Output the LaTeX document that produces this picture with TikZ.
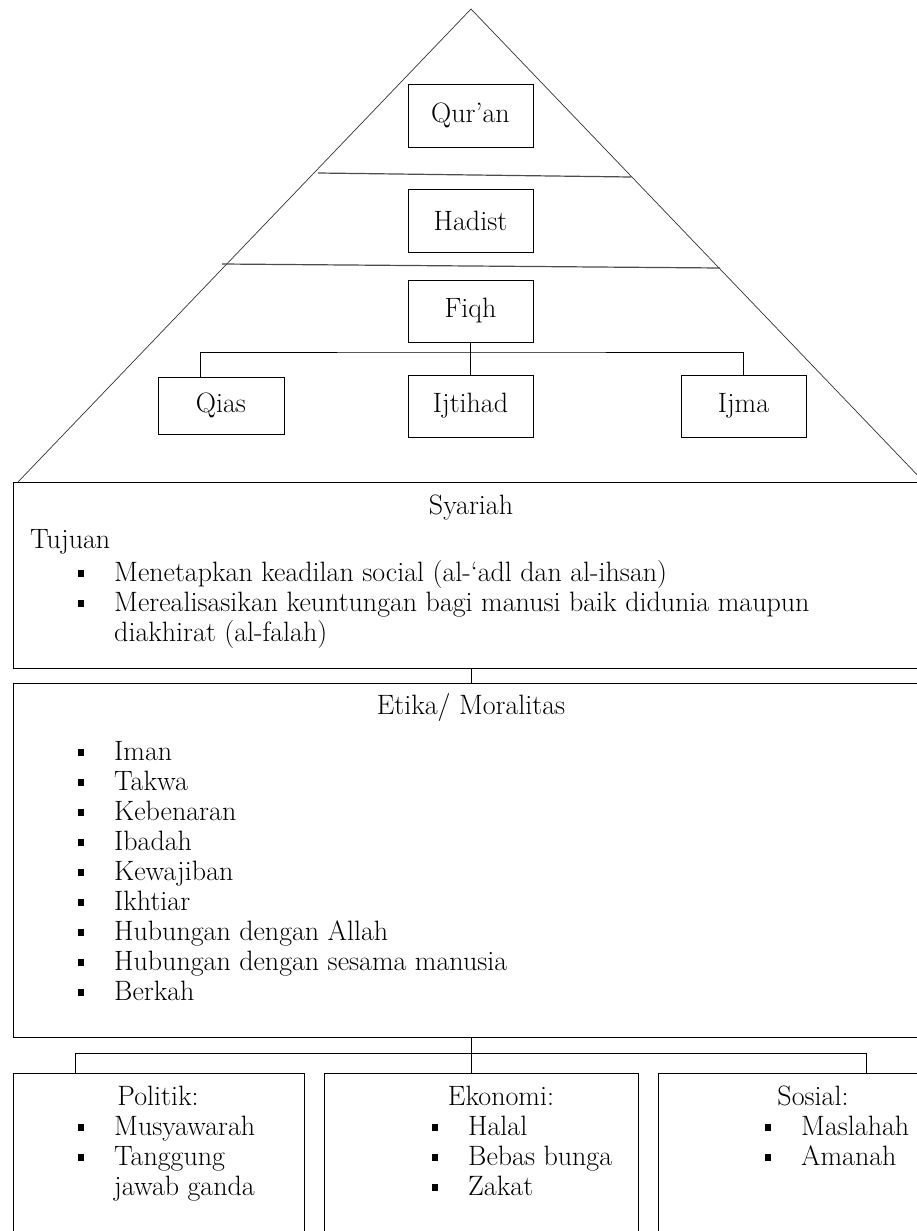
\documentclass[tikz,border=0pt]{standalone}
\usepackage{tikz}
\usetikzlibrary{positioning}

\newcommand{\itm}[1]{\makebox[36pt][l]{\rule[4pt]{6pt}{7pt}}#1}

\begin{document}
\begin{tikzpicture}[x=1pt,y=-1pt,
    box/.style={
        rectangle,draw,line width=1pt,
        minimum width=125pt,
        minimum height=63pt,
        inner sep=0pt,
        font=\fontsize{28}{30}\selectfont
    },
    panel/.style={rectangle,draw,line width=1pt,inner sep=0pt},
    txt/.style={inner sep=0pt,font=\fontsize{28}{30}\selectfont},
    item/.style={txt,anchor=base west}
]
\useasboundingbox (0,0) rectangle (916,1231);

% pyramid
\coordinate (apex) at (471,9);
\draw[black!80,line width=0.7pt] (18,482) -- (apex) -- (924,482);
\draw[black!70,line width=1.2pt] (318,173) -- (631,177);
\draw[black!70,line width=1.2pt] (222,264) -- (720,268);

\node[box] (quran) at (470.5,115.5) {Qur’an};
\node[box, below=41pt of quran] (hadist) {Hadist};
\node[box, minimum height=62pt, below=27pt of hadist] (fiqh) {Fiqh};
\node[box, minimum height=62pt, below=32pt of fiqh] (ijtihad) {Ijtihad};
\node[box, minimum width=126pt, minimum height=57pt] (qias) at (221,405.5) {Qias};
\node[box, minimum height=62pt, right=147pt of ijtihad] (ijma) {Ijma};

\coordinate (fbar) at (471,352);
\draw[line width=0.8pt] (fiqh) -- (ijtihad);
\draw[line width=0.8pt] ([xshift=-21pt]qias.north) |- (fbar) -| (ijma.north);

% syariah
\node[panel, minimum width=916pt, minimum height=186pt] (syariah) at (471,575) {};
\node[txt] (syt) at (471,508) {Syariah};
\node[item] (tuj) at (30,548) {Tujuan};
\node[item] (s1) at (78,581) {\itm{Menetapkan keadilan social (al-‘adl dan al-ihsan)}};
\node[item] (s2) at (78,611) {\itm{Merealisasikan keuntungan bagi manusi baik didunia maupun}};
\node[item] (s3) at (114,641) {diakhirat (al-falah)};

% etika
\node[panel, minimum width=916pt, minimum height=354pt] (etika) at (471,860) {};
\draw[line width=0.8pt] (syariah) -- (etika);
\node[txt] (ett) at (471,707) {Etika/ Moralitas};
\foreach \t [count=\i] in {Iman,Takwa,Kebenaran,Ibadah,Kewajiban,Ikhtiar,
    Hubungan dengan Allah,Hubungan dengan sesama manusia,Berkah}
    \node[item] (e\i) at (78,{760+30*(\i-1)}) {\itm{\t}};

% politik, ekonomi, sosial
\node[panel, minimum width=291pt, minimum height=187pt] (politik) at (158.5,1166.5) {};
\node[panel, minimum width=314pt, minimum height=187pt] (ekonomi) at (481,1166.5) {};
\node[panel, minimum width=272pt, minimum height=187pt] (sosial) at (794,1166.5) {};

\coordinate (ebar) at (471,1053);
\draw[line width=0.8pt] (etika) -- ([xshift=-10pt]ekonomi.north);
\draw[line width=0.8pt] ([xshift=-83.5pt]politik.north) |- (ebar) -| ([xshift=72pt]sosial.north);

\node[txt] (pt) at (158,1096) {Politik:};
\node[item] (p1) at (78,1135) {\itm{Musyawarah}};
\node[item] (p2) at (78,1165) {\itm{Tanggung}};
\node[item] (p3) at (114,1195) {jawab ganda};

\node[txt] (ekt) at (501,1096) {Ekonomi:};
\node[item] (k1) at (432,1135) {\itm{Halal}};
\node[item] (k2) at (432,1165) {\itm{Bebas bunga}};
\node[item] (k3) at (432,1195) {\itm{Zakat}};

\node[txt] (sot) at (813,1096) {Sosial:};
\node[item] (o1) at (765,1135) {\itm{Maslahah}};
\node[item] (o2) at (765,1165) {\itm{Amanah}};
\end{tikzpicture}
\end{document}
